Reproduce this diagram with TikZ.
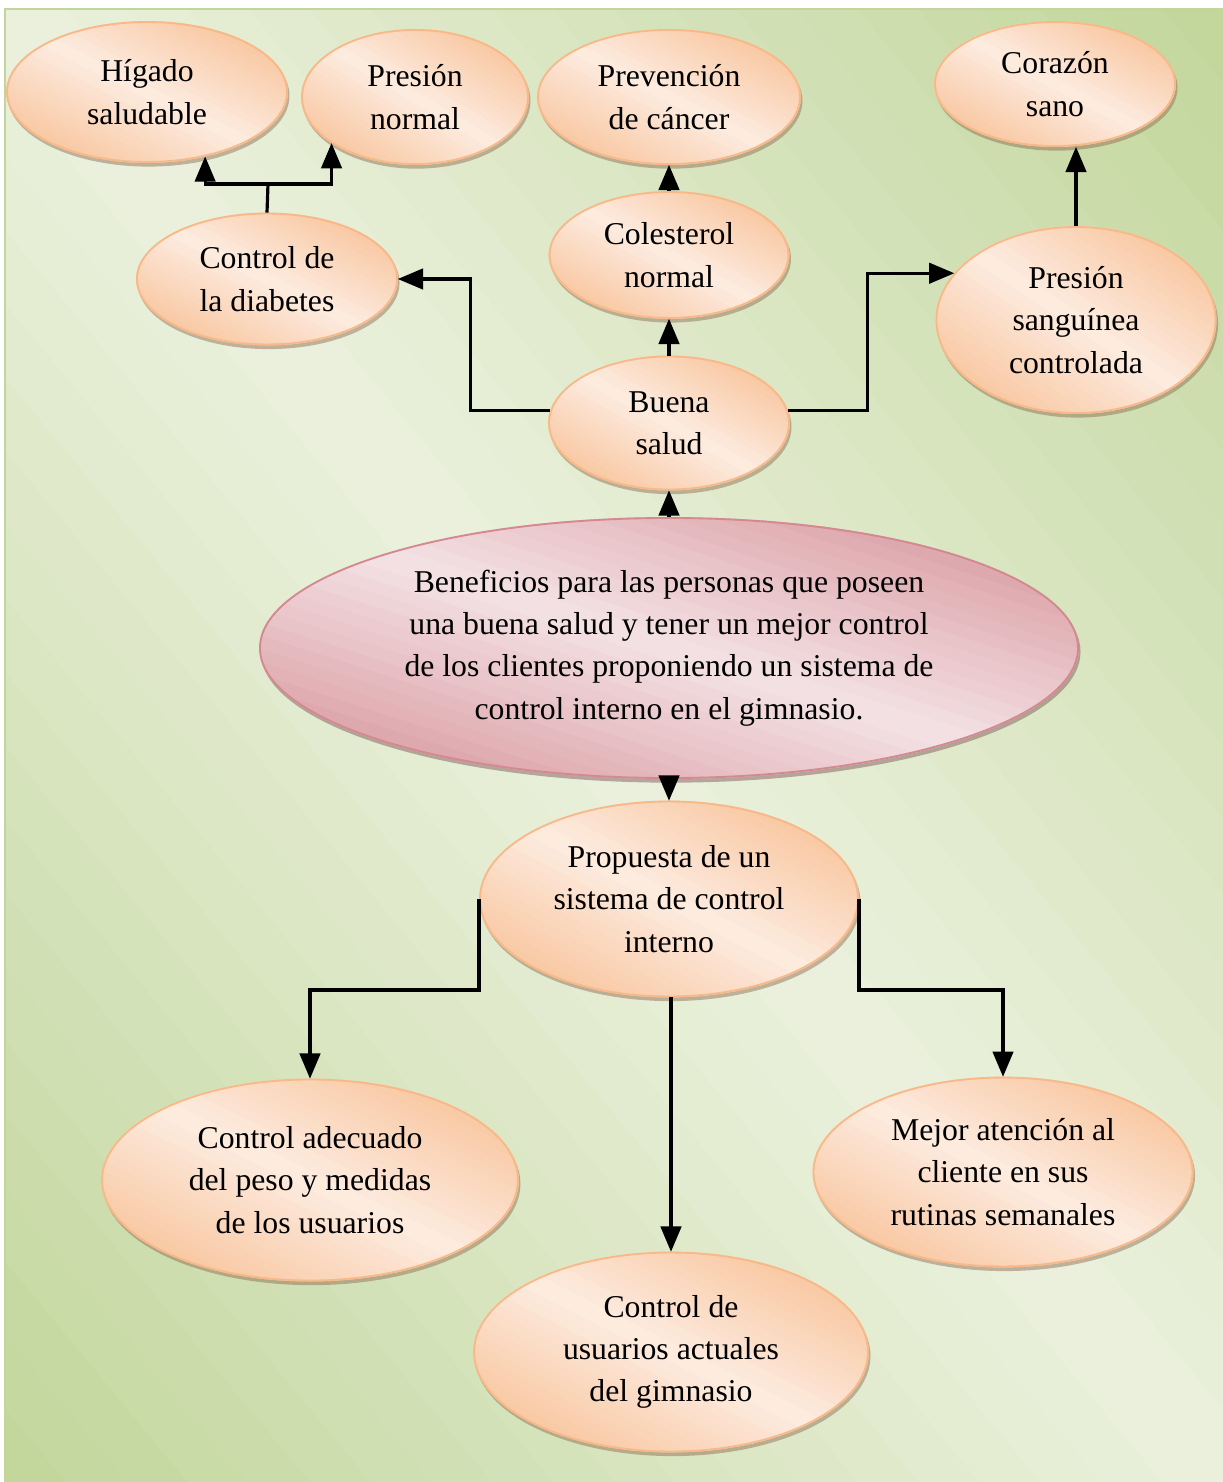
\documentclass[tikz,border=0pt]{standalone}
\usepackage{fontspec}
\setmainfont{Liberation Serif}
\usepackage{tikz}
\usetikzlibrary{arrows,shapes.geometric,calc}

\definecolor{bgdark}{HTML}{C2D69B}
\definecolor{bglight}{HTML}{EBF1DE}
\definecolor{ordark}{HTML}{F7B98A}
\definecolor{orlight}{HTML}{FDECE0}
\definecolor{orline}{HTML}{F8B888}
\definecolor{pkdark}{HTML}{D48E94}
\definecolor{pklight}{HTML}{F4E2E5}
\definecolor{pkline}{HTML}{D4888F}

\pgfdeclarelayer{back}
\pgfdeclarelayer{fills}
\pgfsetlayers{back,fills,main}

% diagonal gradient bands in the unit square: dark at top right and bottom left
\newcommand\diagbands[2]{%
  \foreach \k in {0,...,39}{
    \pgfmathsetmacro\sa{\k/20}
    \pgfmathsetmacro\sb{(\k+1.1)/20}
    \pgfmathsetmacro\pc{100*(1-abs((\k+0.5)/20-1))}
    \fill[#2!\pc!#1] (\sa+1,-1) -- (\sb+1,-1) -- (-1,\sb+1) -- (-1,\sa+1) -- cycle;
  }}

% shadow and gradient under an oval node
\newcommand\ovalfill[3]{%
  \path[-, fill=#2!55!black, opacity=0.45] let \p1=(#1.east), \p2=(#1.north), \p3=(#1.center) in
    ([shift={(0.6pt,-1.4pt)}]#1.center) ellipse [x radius=\x1-\x3, y radius=\y2-\y3];
  \begin{scope}
    \clip let \p1=(#1.east), \p2=(#1.north), \p3=(#1.center) in
      (#1.center) ellipse [x radius=\x1-\x3, y radius=\y2-\y3];
    \begin{scope}[-, shift={(#1.west |- #1.south)},
        x={($(#1.east)-(#1.west)$)}, y={($(#1.north)-(#1.south)$)}]
      \diagbands{#2}{#3}
    \end{scope}
  \end{scope}}

\tikzset{
  ovalbase/.style={ellipse, inner sep=0pt, align=center, line width=0.7pt,
    font=\fontsize{12}{16}\selectfont},
  oval/.style={ovalbase, draw=orline},
  mainoval/.style={ovalbase, draw=pkline},
  link/.style={line width=1.2pt, black}
}

\begin{document}
\begin{tikzpicture}[x=0.378pt, y=-0.378pt, ->, >=triangle 45, very thick]

    \useasboundingbox (0,0) rectangle (1223,1482);

    % Define nodes
    \node (Higado) [oval, minimum width=105.8pt, minimum height=52.9pt] at (147,92) {Hígado\\saludable};
    \node (Pnormal) [oval, minimum width=85.4pt, minimum height=50.7pt] at (415,97) {Presión\\normal};
    \node (Pcancer) [oval, minimum width=99pt, minimum height=50.7pt] at (669,97) {Prevención\\de cáncer};
    \node (Csano) [oval, minimum width=90.7pt, minimum height=46.9pt] at (1055,84) {Corazón\\sano};
    \node (Cdiabetes) [oval, minimum width=98.3pt, minimum height=49.5pt] at (267,279) {Control de\\la diabetes};
    \node (Cnormal) [oval, minimum width=90.3pt, minimum height=47.6pt] at (669,255) {Colesterol\\normal};
    \node (Bsalud) [oval, minimum width=90.7pt, minimum height=50.3pt] at (669,423) {Buena\\salud};
    \node (Psanguinea) [oval, minimum width=105.5pt, minimum height=70.3pt] at (1076,320) {Presión\\sanguínea\\controlada};
    \node (Beneficios) [mainoval, minimum width=309.2pt, minimum height=98.3pt] at (669,648)
        {Beneficios para las personas que poseen\\una buena salud y tener un mejor control\\de los clientes proponiendo un sistema de\\control interno en el gimnasio.};
    \node (Psistema) [oval, minimum width=142.9pt, minimum height=73.7pt] at (669,899) {Propuesta de un\\sistema de control\\interno};
    \node (Cpeso) [oval, minimum width=157.2pt, minimum height=76pt] at (310,1180) {Control adecuado\\del peso y medidas\\de los usuarios};
    \node (Matencion) [oval, minimum width=143.3pt, minimum height=71.4pt] at (1003,1172) {Mejor atención al\\cliente en sus\\rutinas semanales};
    \node (Cusuarios) [oval, minimum width=148.9pt, minimum height=75.2pt] at (671,1352) {Control de\\usuarios actuales\\del gimnasio};

    % Background and fills
    \begin{pgfonlayer}{back}
        \begin{scope}
            \clip (5,9) rectangle (1223,1482);
            \begin{scope}[-, shift={(5,1482)}, x={(460.4pt,0pt)}, y={(0pt,556.8pt)}]
                \diagbands{bgdark}{bglight}
            \end{scope}
        \end{scope}
        \draw[-, bgdark, line width=0.8pt] (5,1482) -- (5,9) -- (1223,9);
    \end{pgfonlayer}
    \begin{pgfonlayer}{fills}
        \ovalfill{Higado}{ordark}{orlight}
        \ovalfill{Pnormal}{ordark}{orlight}
        \ovalfill{Pcancer}{ordark}{orlight}
        \ovalfill{Csano}{ordark}{orlight}
        \ovalfill{Cdiabetes}{ordark}{orlight}
        \ovalfill{Cnormal}{ordark}{orlight}
        \ovalfill{Bsalud}{ordark}{orlight}
        \ovalfill{Psanguinea}{ordark}{orlight}
        \ovalfill{Beneficios}{pkdark}{pklight}
        \ovalfill{Psistema}{ordark}{orlight}
        \ovalfill{Cpeso}{ordark}{orlight}
        \ovalfill{Matencion}{ordark}{orlight}
        \ovalfill{Cusuarios}{ordark}{orlight}
    \end{pgfonlayer}

    \begin{scope}[link]
    % Upper connections
    \coordinate (split) at (268,184);
    \draw[-] (Cdiabetes.north) -- (split);
    \draw (split) -| (Higado.-48);
    \draw (split) -| (Pnormal.-151);
    \draw (Bsalud.174) -- ++(-80,0) |- (Cdiabetes.east);
    \draw (Bsalud.6) -- ++(80,0) |- (Psanguinea.159);
    \draw (Bsalud.north) -- (Cnormal.south);
    \draw (Cnormal.north) -- (Pcancer.south);
    \draw (Psanguinea.north) -- (Psanguinea.north |- Csano.south);
    \draw (Beneficios.north) -- (Bsalud.south);

    % Lower connections
    \draw (Beneficios.south) -- (Psistema.north);
    \draw (Psistema.west) -- ++(0,91) -| (Cpeso.north);
    \draw (Psistema.east) -- ++(0,91) -| (Matencion.north);
    \draw (Cusuarios.north |- Psistema.south) -- (Cusuarios.north);
    \end{scope}

\end{tikzpicture}
\end{document}
